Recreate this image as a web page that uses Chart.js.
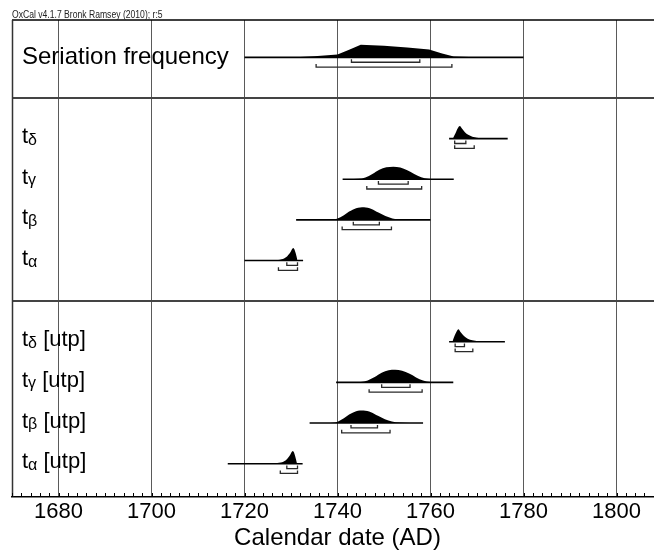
<!DOCTYPE html>
<html>
<head>
<meta charset="utf-8">
<title>OxCal multiplot</title>
<script src="https://cdn.jsdelivr.net/npm/chart.js@4.4.1/dist/chart.umd.min.js"></script>
<style>
  html, body { margin: 0; padding: 0; overflow: hidden; background: #fff; }
  #wrap { width: 665px; height: 553px; position: relative; }
</style>
</head>
<body>
<div id="wrap"><canvas id="oxcalChart"></canvas></div>
<script>
// ---- data ----
const rowLabels = ['Seriation frequency', 'tδ', 'tγ', 'tβ', 'tα', 'tδ [utp]', 'tγ [utp]', 'tβ [utp]', 'tα [utp]'];
const rowSlots = [0, 2, 3, 4, 5, 7, 8, 9, 10];   // row order, gaps are the panel breaks

// extent of the horizontal line under each distribution (AD)
const lineStart = [1720.0, 1764.0, 1741.1, 1731.1, 1720.0, 1764.0, 1739.7, 1734.0, 1716.4];
const lineEnd   = [1780.0, 1776.6, 1765.0, 1760.0, 1732.6, 1776.0, 1764.9, 1758.4, 1732.5];

// 68.2% and 95.4% ranges
const range68 = [[1743.0, 1757.7], [1765.2, 1767.6], [1748.8, 1755.2], [1743.4, 1749.0], [1729.1, 1731.4],
                 [1765.3, 1767.3], [1749.5, 1755.6], [1742.9, 1748.6], [1729.1, 1731.4]];
const range95 = [[1735.4, 1764.6], [1765.2, 1769.4], [1746.3, 1758.1], [1741.0, 1751.6], [1727.3, 1731.4],
                 [1765.3, 1769.1], [1746.8, 1758.2], [1740.9, 1751.3], [1727.7, 1731.4]];

// relative probability, [year, p] with p = 1 at the peak
const densSeriation = [[1720, 0], [1726, 0.005], [1731, 0.02], [1735, 0.08], [1740, 0.22], [1742.5, 0.6], [1745, 1],
                       [1750, 0.92], [1755, 0.79], [1759.7, 0.62], [1762.5, 0.3], [1765, 0.06], [1770, 0.01], [1780, 0]];
const densDelta = [[1764.8, 0], [1765.4, 0.45], [1765.9, 0.85], [1766.3, 1], [1766.8, 0.78], [1767.4, 0.5], [1768.1, 0.3],
                   [1769, 0.16], [1770, 0.08], [1771.3, 0.03], [1773, 0.01], [1775, 0]];
const densGamma = [[1742.5, 0], [1744.5, 0.04], [1746, 0.15], [1747.5, 0.42], [1749, 0.76], [1750.5, 0.95], [1752, 1],
                   [1753.5, 0.93], [1755, 0.72], [1756.5, 0.42], [1758, 0.17], [1759.5, 0.05], [1761.5, 0]];
const densBeta = [[1737.5, 0], [1739.5, 0.05], [1741, 0.28], [1742.5, 0.66], [1744, 0.93], [1745.7, 1], [1747.3, 0.87],
                  [1748.8, 0.58], [1750.3, 0.3], [1751.8, 0.12], [1753.5, 0.04], [1755.5, 0]];
const densAlpha = [[1724, 0], [1726.5, 0.03], [1728, 0.1], [1729, 0.28], [1729.8, 0.62], [1730.5, 1], [1731.0, 0.6], [1731.4, 0]];
const densDeltaU = [[1764.7, 0], [1765.2, 0.5], [1765.7, 0.88], [1766.0, 1], [1766.5, 0.75], [1767.2, 0.45], [1768, 0.25],
                    [1769, 0.12], [1770.2, 0.05], [1772, 0.01], [1774, 0]];
const densGammaU = [[1743, 0], [1745, 0.04], [1746.5, 0.16], [1748, 0.43], [1749.5, 0.77], [1751, 0.96], [1752.4, 1],
                    [1753.9, 0.92], [1755.4, 0.7], [1756.9, 0.4], [1758.4, 0.16], [1759.9, 0.04], [1762, 0]];
const densBetaU = [[1737.5, 0], [1739.5, 0.05], [1741, 0.3], [1742.5, 0.68], [1744, 0.94], [1745.6, 1], [1747.2, 0.86],
                   [1748.7, 0.57], [1750.2, 0.3], [1751.7, 0.12], [1753.3, 0.04], [1755.5, 0]];
const densAlphaU = [[1723.5, 0], [1726.3, 0.03], [1727.8, 0.1], [1728.9, 0.28], [1729.7, 0.62], [1730.4, 1], [1730.9, 0.6], [1731.3, 0]];

const densities = [densSeriation, densDelta, densGamma, densBeta, densAlpha, densDeltaU, densGammaU, densBetaU, densAlphaU];

const xTickLabels = [1680, 1700, 1720, 1740, 1760, 1780, 1800];

// ---- layout (row units) ----
const ROW_OFFSET = 0.92;  // baseline inside a row
const PEAK = 0.31;        // height of a peak
const OFF68 = 0.12, OFF95 = 0.24, HOOK = 0.075;
const Y_MAX = 11.74;
const FONT = '"Liberation Sans", Arial, Helvetica, sans-serif';

const baseOf = i => rowSlots[i] + ROW_OFFSET;
const separators = [1 + ROW_OFFSET, 6 + ROW_OFFSET];

const datasets = [];
rowLabels.forEach((label, i) => {
  const base = baseOf(i);
  // filled distribution
  datasets.push({
    data: densities[i].map(([yr, p]) => ({x: yr, y: base - p * PEAK})),
    backgroundColor: '#000',
    borderWidth: 0,
    pointRadius: 0,
    fill: {value: base},
    tension: i === 0 ? 0 : 0.4,
    cubicInterpolationMode: i === 0 ? 'default' : 'monotone'
  });
  // axis line under it
  datasets.push({
    data: [{x: lineStart[i], y: base}, {x: lineEnd[i], y: base}],
    borderColor: '#000',
    borderWidth: 1.6,
    pointRadius: 0,
    fill: false
  });
  // range brackets
  [[range68[i], OFF68], [range95[i], OFF95]].forEach(([r, off]) => {
    const yb = base + off;
    datasets.push({
      data: [{x: r[0], y: yb - HOOK}, {x: r[0], y: yb}, {x: r[1], y: yb}, {x: r[1], y: yb - HOOK}],
      borderColor: '#2a2a2a',
      borderWidth: 1.3,
      pointRadius: 0,
      fill: false,
      tension: 0
    });
  });
});

function strokeLine(ctx, x1, y1, x2, y2) {
  ctx.beginPath();
  ctx.moveTo(x1, y1);
  ctx.lineTo(x2, y2);
  ctx.stroke();
}

const framePlugin = {
  id: 'oxcalFrame',
  beforeDatasetsDraw(chart) {
    const {ctx, chartArea: a, scales: {x, y}} = chart;
    ctx.save();
    // panel breaks
    ctx.strokeStyle = '#444';
    ctx.lineWidth = 2;
    separators.forEach(v => {
      const py = Math.round(y.getPixelForValue(v));
      strokeLine(ctx, a.left, py, a.right, py);
    });
    // top and left edges
    ctx.strokeStyle = '#000';
    ctx.lineWidth = 1.5;
    strokeLine(ctx, a.left, y.getPixelForValue(0), a.right, y.getPixelForValue(0));
    ctx.strokeStyle = '#333';
    strokeLine(ctx, a.left + 0.5, a.top, a.left + 0.5, a.bottom);
    // small ticks every 2 years, pointing up
    ctx.strokeStyle = '#000';
    ctx.lineWidth = 1;
    x.ticks.forEach(t => {
      const px = Math.round(x.getPixelForValue(t.value)) + 0.5;
      strokeLine(ctx, px, a.bottom, px, a.bottom - 4);
    });
    ctx.restore();
  },
  afterDraw(chart) {
    const {ctx, chartArea: a, scales: {y}} = chart;
    ctx.save();
    ctx.fillStyle = '#222';
    ctx.textBaseline = 'alphabetic';
    ctx.font = '10px ' + FONT;
    ctx.save();
    ctx.translate(a.left, a.top - 2);
    ctx.scale(0.86, 1);
    ctx.fillText('OxCal v4.1.7 Bronk Ramsey (2010); r:5', 0, 0);
    ctx.restore();

    ctx.fillStyle = '#000';
    rowLabels.forEach((label, i) => {
      const py = y.getPixelForValue(baseOf(i));
      const px = a.left + 10;
      if (i === 0) {
        ctx.font = '24px ' + FONT;
        ctx.fillText(label, px, py + 7);
        return;
      }
      ctx.font = '22px ' + FONT;
      ctx.fillText('t', px, py + 4.5);
      let cx = px + ctx.measureText('t').width;
      ctx.font = '16px ' + FONT;
      ctx.fillText(label[1], cx, py + 6);
      cx += ctx.measureText(label[1]).width;
      ctx.font = '22px ' + FONT;
      ctx.fillText(label.slice(2), cx, py + 4.5);
    });
    ctx.restore();
  }
};

new Chart(document.getElementById('oxcalChart'), {
  type: 'line',
  data: {datasets: datasets},
  options: {
    responsive: true,
    maintainAspectRatio: false,
    animation: false,
    layout: {padding: {left: 12, top: 20, right: 0, bottom: 0}},
    plugins: {
      legend: {display: false},
      tooltip: {enabled: false}
    },
    scales: {
      x: {
        type: 'linear',
        min: 1670,
        max: 1810,
        grid: {
          drawTicks: false,
          lineWidth: 1,
          color: c => (c.tick && c.tick.value % 20 === 0) ? '#5a5a5a' : 'rgba(0,0,0,0)'
        },
        border: {display: true, color: '#000', width: 1.5},
        ticks: {
          stepSize: 2,
          maxTicksLimit: 200,
          autoSkip: false,
          maxRotation: 0,
          includeBounds: false,
          padding: 2,
          color: '#000',
          font: {family: FONT, size: 22},
          callback: v => xTickLabels.includes(v) ? String(v) : ''
        },
        title: {
          display: true,
          text: 'Calendar date (AD)',
          color: '#000',
          font: {family: FONT, size: 24},
          padding: {top: 0, bottom: 0}
        },
        afterFit: s => { s.height = 56; }
      },
      y: {type: 'linear', display: false, reverse: true, min: 0, max: Y_MAX}
    }
  },
  plugins: [framePlugin]
});
</script>
</body>
</html>
